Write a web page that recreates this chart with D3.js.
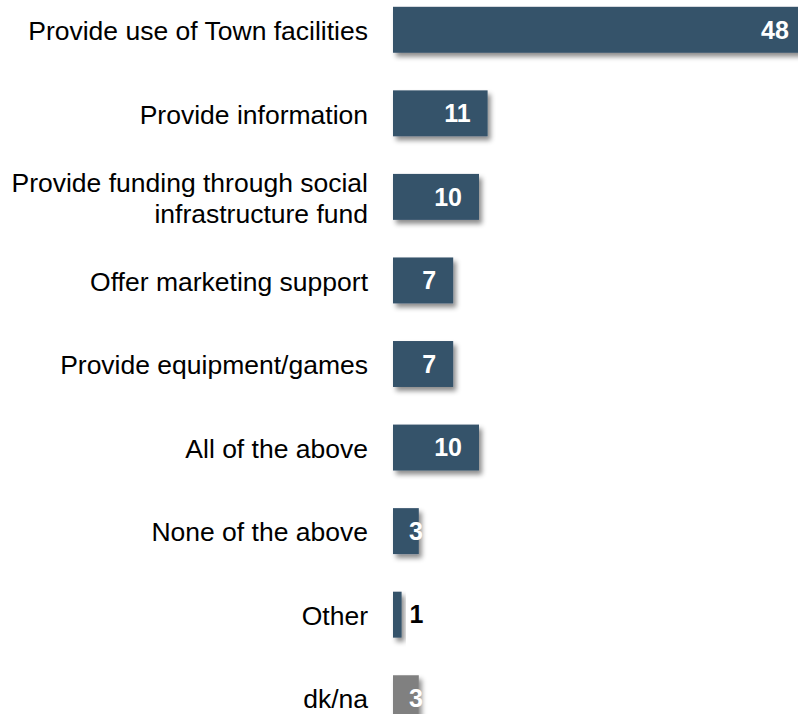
<html>
<head>
  <style>
    body { margin: 0; background: #fff; }
    .cat { font-family: "Liberation Sans", Arial, sans-serif; font-size: 26.5px; fill: #000; }
    .val { font-family: "Liberation Sans", Arial, sans-serif; font-size: 25px; font-weight: bold; }
  </style>
</head>
<body>
  <div class="chart"></div>
  <script src="https://cdnjs.cloudflare.com/ajax/libs/d3/7.8.5/d3.min.js"></script>
  <script>
    // chart data
    let categories = [
      ["Provide use of Town facilities"],
      ["Provide information"],
      ["Provide funding through social", "infrastructure fund"],
      ["Offer marketing support"],
      ["Provide equipment/games"],
      ["All of the above"],
      ["None of the above"],
      ["Other"],
      ["dk/na"]
    ];
    let values = [48, 11, 10, 7, 7, 10, 3, 1, 3];
    let barColors = ["#36526b", "#36526b", "#36526b", "#36526b", "#36526b",
      "#36526b", "#36526b", "#36526b", "#808080"];

    let width = 798, height = 714;
    let x0 = 393;
    let lineGap = 31;

    let svg = d3.select(".chart").append("svg")
      .attr("width", width)
      .attr("height", height);

    // soft drop shadow like the office chart
    let filter = svg.append("defs").append("filter")
      .attr("id", "shadow")
      .attr("x", "-20%").attr("y", "-20%")
      .attr("width", "160%").attr("height", "160%");
    filter.append("feDropShadow")
      .attr("dx", 3).attr("dy", 4)
      .attr("stdDeviation", 2.5)
      .attr("flood-color", "#000")
      .attr("flood-opacity", 0.45);

    let x = d3.scaleLinear()
      .domain([0, 1])
      .range([x0, x0 + 8.6]);

    let y = d3.scaleBand()
      .domain(d3.range(values.length))
      .range([-12, 740])
      .paddingInner(0.45)
      .paddingOuter(0.225);

    let rows = svg.selectAll(".row")
      .data(values)
      .enter().append("g")
      .attr("class", "row");

    rows.append("rect")
      .attr("x", x(0))
      .attr("y", function (d, i) { return y(i); })
      .attr("width", function (d) { return x(d) - x(0); })
      .attr("height", y.bandwidth())
      .attr("fill", function (d, i) { return barColors[i]; })
      .attr("filter", "url(#shadow)");

    // category labels, right aligned left of the bars
    rows.append("text")
      .attr("class", "cat")
      .attr("text-anchor", "end")
      .attr("x", 368)
      .attr("y", function (d, i) {
        let n = categories[i].length;
        return y(i) + y.bandwidth() / 2 - (n - 1) * lineGap / 2 + 1;
      })
      .each(function (d, i) {
        let t = d3.select(this);
        categories[i].forEach(function (line, j) {
          t.append("tspan")
            .attr("x", 368)
            .attr("dy", j === 0 ? "0.35em" : lineGap)
            .text(line);
        });
      });

    // value labels
    rows.append("text")
      .attr("class", "val")
      .attr("text-anchor", function (d) { return d < 2 ? "start" : "end"; })
      .attr("x", function (d) {
        if (d < 2) return x(d) + 8;
        return Math.max(x(d) - 17, x(0) + 30);
      })
      .attr("y", function (d, i) { return y(i) + y.bandwidth() / 2; })
      .attr("dy", "0.35em")
      .attr("fill", function (d) { return d < 2 ? "#000" : "#fff"; })
      .text(function (d) { return d; });
  </script>
</body>
</html>
